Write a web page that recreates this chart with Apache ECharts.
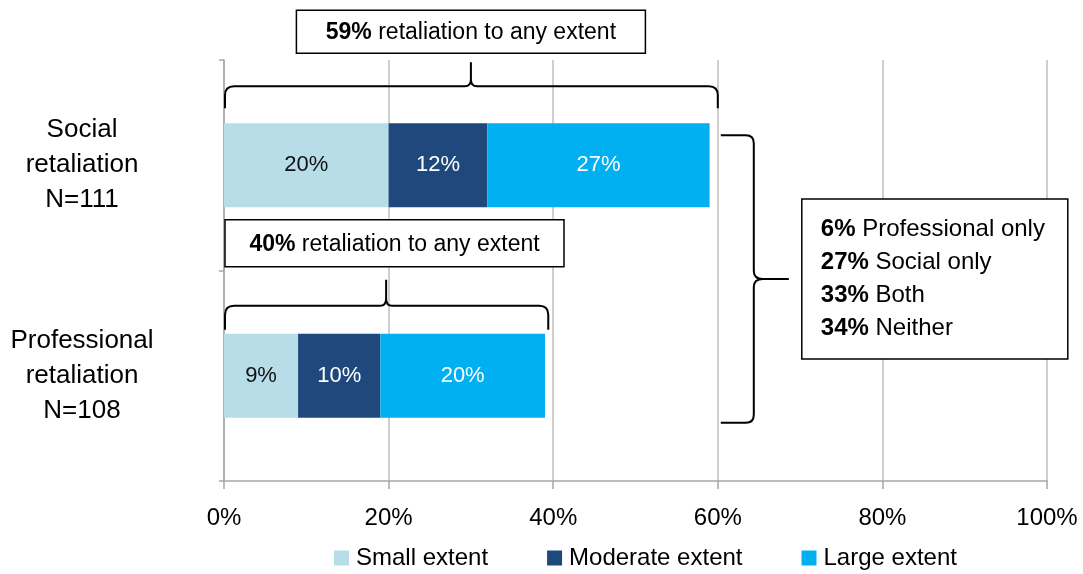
<!DOCTYPE html>
<html>
<head>
<meta charset="utf-8">
<script src="https://cdn.jsdelivr.net/npm/echarts@6/dist/echarts.min.js"></script>
<style>
html,body{margin:0;padding:0;background:#fff;}
#chart{width:1083px;height:574px;}
</style>
</head>
<body>
<div id="chart"></div>
<script>
// ---- data ----
const categories = ['Social\nretaliation\nN=111', 'Professional\nretaliation\nN=108'];
const seriesNames = ['Small extent', 'Moderate extent', 'Large extent'];
const smallExtent = [20, 9];
const moderateExtent = [12, 10];
const largeExtent = [27, 20];
const xTicks = [0, 20, 40, 60, 80, 100];
const anyExtentPct = [59, 40];
const anyExtentText = 'retaliation to any extent';
const braceFrom = [0, 0];
const braceTo = [60, 39.4];
const braceTip = [30, 19.7];
const overlapBraceX = 60;
const overlapPct = [6, 27, 33, 34];
const overlapLabels = ['Professional only', 'Social only', 'Both', 'Neither'];

// ---- styles ----
const FONT = '"Liberation Sans", Arial, sans-serif';
const colors = ['#B7DDE8', '#1F497D', '#00B0F0'];
const labelColors = ['#111', '#fff', '#fff'];
const annoStyle = [
  {endDy: -57, barDy: -79, tipDy: -103, boxTop: -155, boxH: 43, boxW: 349, boxAlign: 'center'},
  {endDy: -46, barDy: -70, tipDy: -96, boxTop: -156, boxH: 47, boxW: 339, boxAlign: 'left'}
];

const chart = echarts.init(document.getElementById('chart'), null, {renderer: 'canvas'});

const barData = [smallExtent, moderateExtent, largeExtent];
const barSeries = seriesNames.map((name, k) => ({
  name: name,
  type: 'bar',
  stack: 'total',
  barWidth: '40%',
  data: barData[k],
  itemStyle: {color: colors[k]},
  label: {
    show: true,
    position: 'inside',
    formatter: '{c}%',
    fontFamily: FONT,
    fontSize: 22,
    color: labelColors[k]
  },
  emphasis: {disabled: true},
  z: 2
}));

const braceSeries = {
  type: 'custom',
  coordinateSystem: 'cartesian2d',
  silent: true,
  z: 5,
  data: categories.map((c, i) => [braceFrom[i], braceTo[i], i, braceTip[i], anyExtentPct[i]]),
  renderItem: function (params, api) {
    const i = params.dataIndex;
    const s = annoStyle[i];
    const a = api.coord([api.value(0), api.value(2)]);
    const b = api.coord([api.value(1), api.value(2)]);
    const t = api.coord([api.value(3), api.value(2)]);
    const cy = a[1];
    const x1 = a[0] + 1, x2 = b[0], xm = t[0];
    const yb = cy + s.endDy, yh = cy + s.barDy, yt = cy + s.tipDy;
    const r = 9;
    const d = `M${x1},${yb} L${x1},${yh + r} Q${x1},${yh} ${x1 + r},${yh} L${xm - 6},${yh} Q${xm},${yh} ${xm},${yh - 7} L${xm},${yt} ` +
              `M${xm},${yh - 7} Q${xm},${yh} ${xm + 6},${yh} L${x2 - r},${yh} Q${x2},${yh} ${x2},${yh + r} L${x2},${yb}`;
    const boxX = s.boxAlign === 'center' ? xm - s.boxW / 2 : x1;
    const boxY = cy + s.boxTop;
    return {
      type: 'group',
      children: [
        {type: 'path', shape: {pathData: d}, style: {fill: 'none', stroke: '#000', lineWidth: 2}},
        {type: 'rect', shape: {x: boxX, y: boxY, width: s.boxW, height: s.boxH},
         style: {fill: '#fff', stroke: '#000', lineWidth: 1.5}},
        {type: 'text', x: boxX + s.boxW / 2, y: boxY + s.boxH / 2 + 1,
         style: {
           text: '{b|' + api.value(4) + '%} ' + anyExtentText,
           align: 'center', verticalAlign: 'middle',
           fontFamily: FONT, fontSize: 23, fill: '#000',
           rich: {b: {fontFamily: FONT, fontSize: 23, fontWeight: 'bold', fill: '#000'}}
         }}
      ]
    };
  }
};

const overlapSeries = {
  type: 'custom',
  coordinateSystem: 'cartesian2d',
  silent: true,
  z: 5,
  data: [[overlapBraceX, 0, 1]],
  renderItem: function (params, api) {
    const top = api.coord([api.value(0), api.value(1)]);
    const bot = api.coord([api.value(0), api.value(2)]);
    const xs = top[0] + 3, xv = top[0] + 36, xt = top[0] + 71;
    const y1 = top[1] - 30, y2 = bot[1] + 47, ym = (y1 + y2) / 2;
    const r = 8;
    const d = `M${xs},${y1} L${xv - r},${y1} Q${xv},${y1} ${xv},${y1 + r} L${xv},${ym - 8} Q${xv},${ym} ${xv + 9},${ym} L${xt},${ym} ` +
              `M${xv + 9},${ym} Q${xv},${ym} ${xv},${ym + 8} L${xv},${y2 - r} Q${xv},${y2} ${xv - r},${y2} L${xs},${y2}`;
    const boxX = top[0] + 84, boxW = 266, boxH = 160;
    const boxY = ym - boxH / 2;
    const txt = overlapPct.map((p, k) => '{b|' + p + '%} ' + overlapLabels[k]).join('\n');
    return {
      type: 'group',
      children: [
        {type: 'path', shape: {pathData: d}, style: {fill: 'none', stroke: '#000', lineWidth: 2}},
        {type: 'rect', shape: {x: boxX, y: boxY, width: boxW, height: boxH},
         style: {fill: '#fff', stroke: '#000', lineWidth: 1.5}},
        {type: 'text', x: boxX + 19, y: ym,
         style: {
           text: txt, align: 'left', verticalAlign: 'middle',
           fontFamily: FONT, fontSize: 24, lineHeight: 33, fill: '#000',
           rich: {b: {fontFamily: FONT, fontSize: 24, lineHeight: 33, fontWeight: 'bold', fill: '#000'}}
         }}
      ]
    };
  }
};

chart.setOption({
  animation: false,
  backgroundColor: '#fff',
  textStyle: {fontFamily: FONT},
  grid: {left: 224, right: 36, top: 60, bottom: 93},
  legend: {
    data: seriesNames,
    left: 329,
    top: 541,
    icon: 'rect',
    itemWidth: 15,
    itemHeight: 15,
    itemGap: 59,
    textStyle: {fontFamily: FONT, fontSize: 24, color: '#000', padding: [0, 0, 0, 2]}
  },
  xAxis: {
    type: 'value',
    min: xTicks[0],
    max: xTicks[xTicks.length - 1],
    interval: xTicks[1] - xTicks[0],
    axisLine: {show: true, lineStyle: {color: '#A6A6A6', width: 1.5}},
    axisTick: {show: true, length: 8, lineStyle: {color: '#A6A6A6', width: 1.5}},
    splitLine: {show: true, lineStyle: {color: '#BFBFBF', width: 1.5}},
    axisLabel: {formatter: '{value}%', fontFamily: FONT, fontSize: 24, color: '#000', margin: 25}
  },
  yAxis: {
    type: 'category',
    inverse: true,
    data: categories,
    axisLine: {show: true, lineStyle: {color: '#A6A6A6', width: 1.5}},
    axisTick: {show: true, length: 5, lineStyle: {color: '#A6A6A6', width: 1.5}},
    axisLabel: {fontFamily: FONT, fontSize: 26, lineHeight: 35, color: '#000', align: 'center', margin: 142}
  },
  series: [...barSeries, braceSeries, overlapSeries]
});
</script>
</body>
</html>
